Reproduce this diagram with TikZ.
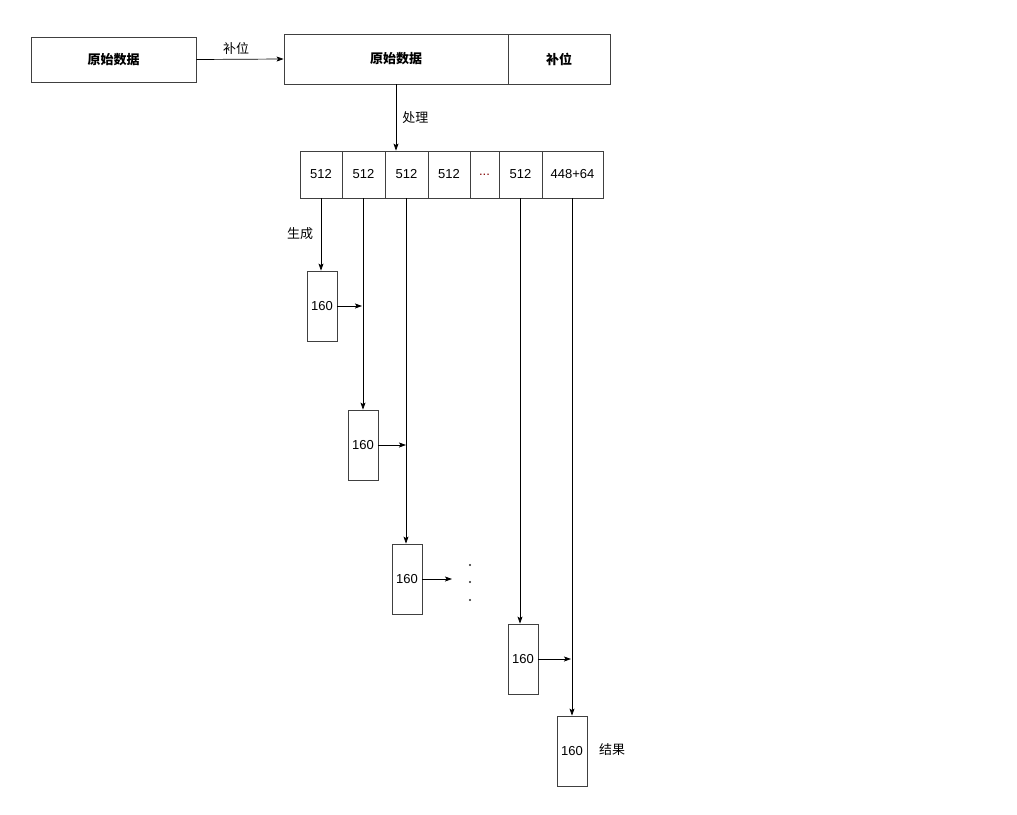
\documentclass[tikz,border=0pt]{standalone}
\usepackage{fontspec}
\usetikzlibrary{arrows.meta}
\setmainfont{Liberation Sans}
\newfontfamily\cjk{Noto Sans CJK SC}
\begin{document}
\begin{tikzpicture}[x=1pt,y=-1pt,
  box/.style={draw=black!75,line width=0.8pt,inner sep=0pt,font=\fontsize{13}{15}\selectfont},
  lbl/.style={font=\cjk\fontsize{13}{15}\selectfont,inner sep=1pt},
  arr/.style={-{Stealth[length=7pt,width=5pt,inset=1.5pt]},line width=0.7pt}]
\useasboundingbox (0,0) rectangle (1017,814);
\node[box,minimum width=165,minimum height=45,font=\cjk\bfseries\fontsize{13}{15}\selectfont] (raw) at (113.5,59.5) {原始数据};
\node[box,minimum width=224,minimum height=50,font=\cjk\bfseries\fontsize{13}{15}\selectfont] (raw2) at (396,59) {原始数据};
\node[box,minimum width=102,minimum height=50,font=\cjk\bfseries\fontsize{13}{15}\selectfont] (pad) at (559,59) {补位};
\draw[arr] (raw.east) -- (raw2.west) node[lbl,midway,above=3pt,xshift=-4pt] {补位};
% row
\foreach \n/\a/\b/\t in {c1/300/342/512,c2/342/385/512,c3/385/428/512,c4/428/470/512,c5/470/499/{\textcolor{red!50!black}{...}},c6/499/542/512,c7/542/603/448+64}
  \node[box,minimum width=\b-\a,minimum height=47] (\n) at ({(\a+\b)/2},174.5) {\t};
\draw[arr] (raw2.south) -- (raw2.south |- c3.north) node[lbl,midway,right=5pt] {处理};
% result boxes
\foreach \n/\x/\y in {r1/322/306,r2/363/445,r3/407/579,r4/523/659,r5/572/751}
  \node[box,minimum width=30,minimum height=70] (\n) at (\x,\y) {160};
\draw[arr] (c1.south -| 321,0) -- (r1.north -| 321,0);
\node[lbl] (gen) at (300,234) {生成};
\coordinate (j1) at (362,306);
\draw[arr] (c2.south -| 363,0) -- (r2.north -| 363,0);
\draw[arr] (r1.east) -- (j1);
\coordinate (j2) at (406,445);
\draw[arr] (c3.south -| 406,0) -- (r3.north -| 406,0);
\draw[arr] (r2.east) -- (j2);
\coordinate (j3) at (452,579);
\draw[arr] (r3.east) -- (j3);
\foreach \n/\y in {d1/565,d2/582,d3/600}
  \node[circle,fill=black!85,inner sep=0pt,minimum size=2.2pt] (\n) at (470,\y) {};
\draw[arr] (c6.south -| 520,0) -- (r4.north -| 520,0);
\coordinate (j4) at (571,659);
\draw[arr] (r4.east) -- (j4);
\draw[arr] (c7.south -| 572,0) -- (r5.north -| 572,0);
\node[lbl] (res) at (612,750) {结果};
\end{tikzpicture}
\end{document}
